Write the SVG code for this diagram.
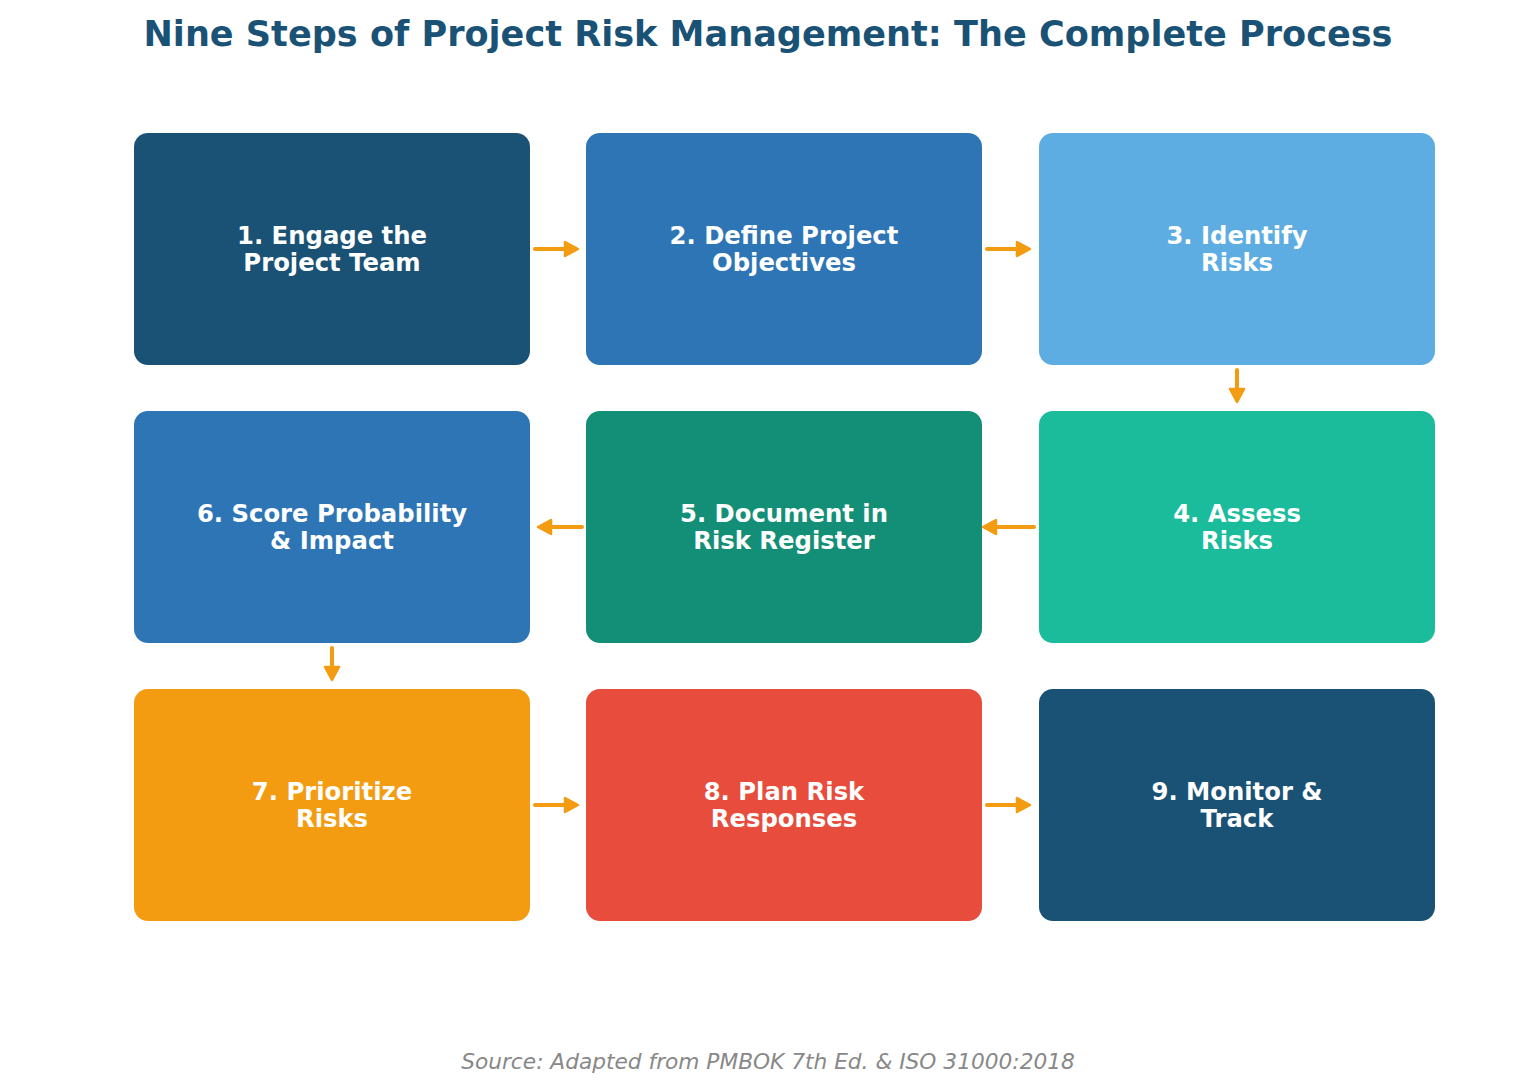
<svg xmlns="http://www.w3.org/2000/svg" width="1536" height="1092" viewBox="0 0 1536 1092">
<style>
.box{rx:14px;ry:14px}
.lbl{font-family:"DejaVu Sans","Liberation Sans",sans-serif;font-weight:bold;font-size:24.3px;fill:#ffffff;text-anchor:middle}
.title{font-family:"DejaVu Sans","Liberation Sans",sans-serif;font-weight:bold;font-size:35.1px;fill:#1a5276;text-anchor:middle}
.src{font-family:"DejaVu Sans","Liberation Sans",sans-serif;font-style:italic;font-size:21.7px;fill:#888888;text-anchor:middle}
.conn line{stroke:#f39c12;stroke-width:4;stroke-linecap:round}
.conn path{fill:#f39c12;stroke:#f39c12;stroke-width:2.5;stroke-linejoin:round}
</style>
<rect width="1536" height="1092" fill="#ffffff"/>
<text class="title" x="768" y="46">Nine Steps of Project Risk Management: The Complete Process</text>
<g id="node1"><rect class="box" x="134" y="133" width="396" height="232" fill="#1a5276"/><text class="lbl" x="332" y="244">1. Engage the</text><text class="lbl" x="332" y="271">Project Team</text></g>
<g id="node2"><rect class="box" x="586" y="133" width="396" height="232" fill="#2e75b6"/><text class="lbl" x="784" y="244">2. Define Project</text><text class="lbl" x="784" y="271">Objectives</text></g>
<g id="node3"><rect class="box" x="1039" y="133" width="396" height="232" fill="#5dade2"/><text class="lbl" x="1237" y="244">3. Identify</text><text class="lbl" x="1237" y="271">Risks</text></g>
<g id="node4"><rect class="box" x="1039" y="411" width="396" height="232" fill="#1abc9c"/><text class="lbl" x="1237" y="522">4. Assess</text><text class="lbl" x="1237" y="549">Risks</text></g>
<g id="node5"><rect class="box" x="586" y="411" width="396" height="232" fill="#148f77"/><text class="lbl" x="784" y="522">5. Document in</text><text class="lbl" x="784" y="549">Risk Register</text></g>
<g id="node6"><rect class="box" x="134" y="411" width="396" height="232" fill="#2e75b6"/><text class="lbl" x="332" y="522">6. Score Probability</text><text class="lbl" x="332" y="549">&amp; Impact</text></g>
<g id="node7"><rect class="box" x="134" y="689" width="396" height="232" fill="#f39c12"/><text class="lbl" x="332" y="800">7. Prioritize</text><text class="lbl" x="332" y="827">Risks</text></g>
<g id="node8"><rect class="box" x="586" y="689" width="396" height="232" fill="#e74c3c"/><text class="lbl" x="784" y="800">8. Plan Risk</text><text class="lbl" x="784" y="827">Responses</text></g>
<g id="node9"><rect class="box" x="1039" y="689" width="396" height="232" fill="#1a5276"/><text class="lbl" x="1237" y="800">9. Monitor &amp;</text><text class="lbl" x="1237" y="827">Track</text></g>
<g id="connectors" class="conn">
<line x1="535" y1="249" x2="568" y2="249"/><path d="M578,249 L565,242 L565,256 Z"/>
<line x1="987" y1="249" x2="1020" y2="249"/><path d="M1030,249 L1017,242 L1017,256 Z"/>
<line x1="1237" y1="370" x2="1237" y2="392"/><path d="M1237,402 L1230,389 L1244,389 Z"/>
<line x1="1034" y1="527" x2="993" y2="527"/><path d="M983,527 L996,520 L996,534 Z"/>
<line x1="582" y1="527" x2="548" y2="527"/><path d="M538,527 L551,520 L551,534 Z"/>
<line x1="332" y1="648" x2="332" y2="670"/><path d="M332,680 L325,667 L339,667 Z"/>
<line x1="535" y1="805" x2="568" y2="805"/><path d="M578,805 L565,798 L565,812 Z"/>
<line x1="987" y1="805" x2="1020" y2="805"/><path d="M1030,805 L1017,798 L1017,812 Z"/>
</g>
<text class="src" x="768" y="1069">Source: Adapted from PMBOK 7th Ed. &amp; ISO 31000:2018</text>
</svg>
